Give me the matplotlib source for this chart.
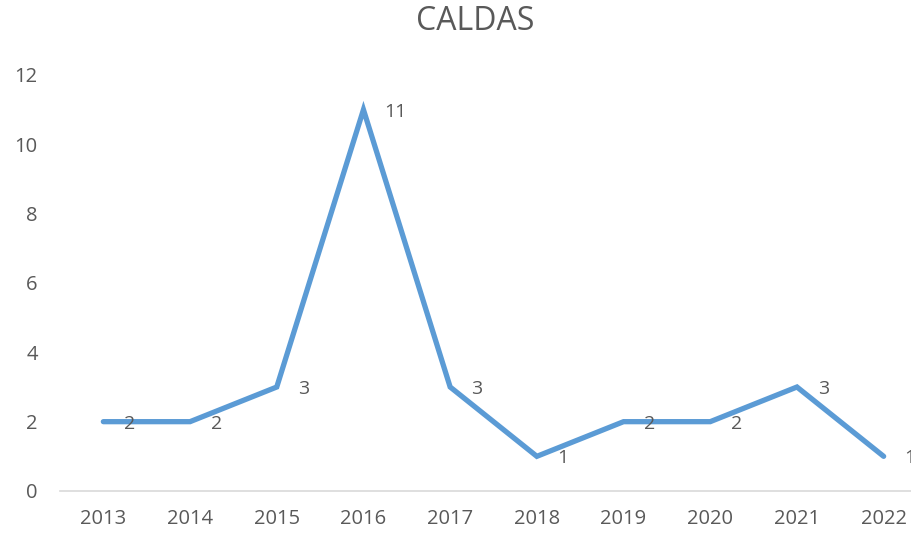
import matplotlib
matplotlib.use("Agg")
import matplotlib.pyplot as plt

years = ["2013", "2014", "2015", "2016", "2017", "2018", "2019", "2020", "2021", "2022"]
values = [2, 2, 3, 11, 3, 1, 2, 2, 3, 1]
yticks = [0, 2, 4, 6, 8, 10, 12]
title = "CALDAS"

plt.rcParams['font.family'] = ['Open Sans', 'DejaVu Sans']
text_color = "#595959"
line_color = "#5b9bd5"

fig = plt.figure(figsize=(9.12, 5.35), dpi=100)
ax = fig.add_axes([60/912, 1-491/535, 867/912, (491-75)/535])

x = list(range(len(years)))
ax.plot(x, values, color=line_color, linewidth=3.8, solid_joinstyle='miter', solid_capstyle='round', clip_on=False)

for xi, v in zip(x, values):
    ax.annotate(str(v), (xi, v), xytext=(15, -1.5), textcoords='offset points',
                ha='left', va='center', fontsize=14, color=text_color, annotation_clip=False)

ax.set_xlim(-0.5, len(years) - 0.5)
ax.set_ylim(0, 12)
ax.set_yticks(yticks)
ax.set_yticklabels([str(t) for t in yticks])
ax.set_xticks(x)
ax.set_xticklabels(years)
ax.tick_params(axis='both', length=0, labelsize=14.5, labelcolor=text_color)
ax.tick_params(axis='y', pad=16)
ax.tick_params(axis='x', pad=13)

for s in ['top', 'right', 'left']:
    ax.spines[s].set_visible(False)
ax.spines['bottom'].set_color('#d9d9d9')
ax.spines['bottom'].set_linewidth(1.2)

fig.text(475/912, 1-22/535, title, ha='center', va='center', fontsize=23, color=text_color)

fig.savefig("out.png", dpi=100)
